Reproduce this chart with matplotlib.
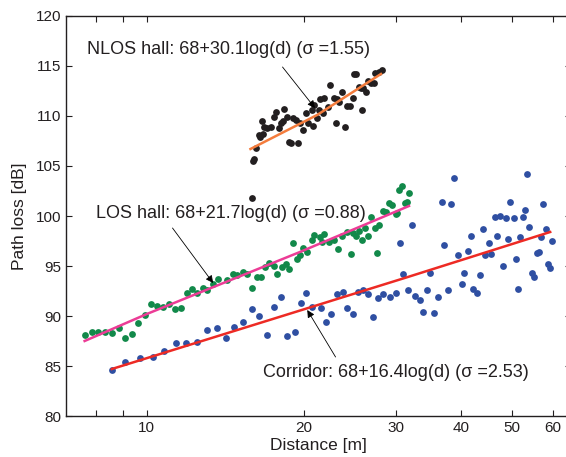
import numpy as np
import matplotlib
matplotlib.use('Agg')
import matplotlib.pyplot as plt
from matplotlib.ticker import FixedLocator, FixedFormatter, NullFormatter

plt.rcParams['font.family'] = ['Liberation Sans', 'DejaVu Sans']

# NLOS hall measurements
nlos_d = [15.9, 16.0, 16.04, 16.2, 16.4, 16.5, 16.7, 16.6, 16.8, 17.0, 17.3, 17.5, 17.7, 17.9,
          18.1, 18.2, 18.3, 18.6, 18.7, 18.9, 19.1, 19.3, 19.5, 19.7, 19.9, 20.2, 20.4, 20.8,
          20.7, 20.9, 21.2, 21.4, 21.5, 21.9, 21.8, 22.2, 22.4, 22.8, 23.1, 23.0, 23.4, 23.7,
          24.0, 24.2, 24.5, 24.8, 25.0, 25.2, 25.5, 25.7, 25.8, 26.0, 26.3, 26.5, 26.9, 27.2,
          27.4, 27.8, 28.2]
nlos_pl = [101.8, 105.5, 105.7, 106.8, 108.1, 107.9, 108.2, 109.5, 108.9, 108.8, 108.9, 109.9,
           110.4, 108.8, 109.3, 109.5, 110.7, 109.9, 107.4, 107.3, 109.8, 109.6, 107.3, 109.3,
           108.6, 110.3, 109.3, 109.0, 110.6, 111.1, 109.8, 110.6, 111.7, 111.8, 110.3, 110.9,
           113.1, 111.8, 111.7, 109.3, 111.4, 112.4, 108.9, 111.0, 111.0, 111.8, 114.2, 114.2,
           112.9, 112.8, 110.6, 112.8, 112.4, 113.5, 113.3, 113.3, 114.3, 114.4, 114.6]

# LOS hall measurements
los_d = [7.61, 7.86, 8.07, 8.30, 8.57, 8.84, 9.07, 9.35, 9.60, 9.90, 10.17, 10.44, 10.75, 11.02,
         11.32, 11.62, 11.92, 12.18, 12.49, 12.80, 13.07, 13.41, 13.71, 14.26, 14.65, 14.91,
         15.26, 15.57, 15.88, 16.28, 16.52, 16.83, 17.16, 17.51, 17.77, 18.13, 18.48, 18.74,
         19.1, 19.44, 19.65, 19.95, 20.3, 20.7, 20.93, 21.46, 21.62, 21.85, 22.36, 22.86, 23.28,
         23.63, 24.17, 24.61, 24.86, 25.13, 25.52, 25.87, 26.17, 26.56, 26.88, 27.36, 27.57,
         27.85, 28.31, 28.73, 29.14, 29.45, 30.0, 30.1, 30.45, 30.86, 31.23, 31.46, 31.83]
los_pl = [88.1, 88.4, 88.4, 88.4, 88.3, 88.8, 87.8, 88.2, 89.3, 90.1, 91.2, 91.0, 90.9, 91.2,
          90.7, 90.8, 92.3, 92.7, 92.3, 92.8, 92.6, 93.2, 93.7, 93.6, 94.2, 94.1, 94.4, 94.2,
          92.8, 93.9, 93.9, 94.9, 95.3, 95.0, 94.2, 94.9, 95.2, 94.7, 97.3, 95.7, 96.1, 96.8,
          96.4, 97.6, 98.1, 97.9, 97.4, 98.2, 97.4, 97.6, 96.7, 98.0, 98.4, 96.2, 98.3, 98.0,
          98.5, 97.6, 98.8, 98.0, 99.9, 98.8, 96.3, 99.1, 100.5, 100.4, 101.3, 101.1, 100.2,
          100.3, 102.6, 103.0, 101.3, 101.4, 102.3]

# Corridor measurements
cor_d = [8.57, 9.10, 9.70, 10.29, 10.81, 11.38, 11.91, 12.46, 13.07, 13.62, 14.19, 14.71, 15.29,
         15.88, 16.40, 16.98, 17.51, 18.05, 18.60, 19.22, 19.75, 20.2, 20.73, 21.53, 22.07,
         22.51, 23.16, 23.72, 24.22, 24.87, 25.43, 26.0, 26.57, 27.17, 27.77, 28.31, 29.23,
         30.0, 30.55, 31.0, 31.7, 32.2, 32.65, 33.37, 33.87, 34.38, 34.92, 35.45, 36.2, 36.77,
         37.1, 37.77, 38.35, 38.86, 39.56, 40.13, 40.58, 41.22, 41.84, 42.27, 42.94, 43.42,
         44.08, 44.57, 45.29, 45.74, 46.4, 47.45, 46.92, 48.2, 48.7, 49.24, 49.68, 50.5, 51.03,
         51.53, 51.9, 52.52, 53.0, 53.53, 54.08, 54.66, 55.22, 55.89, 56.4, 57.0, 57.56, 58.2,
         58.68, 59.38, 59.74]
cor_pl = [84.6, 85.4, 85.8, 85.9, 86.5, 87.3, 87.3, 87.4, 88.6, 88.8, 87.8, 88.9, 89.4, 90.7,
          90.0, 88.1, 90.9, 91.9, 88.0, 88.4, 91.3, 92.3, 90.9, 90.8, 89.4, 90.2, 92.2, 92.4,
          90.8, 90.2, 92.4, 92.6, 92.2, 89.9, 91.8, 92.2, 91.9, 92.3, 97.3, 94.2, 92.6, 99.1,
          92.0, 91.6, 90.4, 92.6, 94.3, 90.3, 91.9, 101.4, 97.1, 92.6, 101.2, 103.8, 96.1, 93.2,
          94.3, 96.5, 98.0, 92.7, 92.3, 94.1, 98.7, 96.1, 97.3, 96.2, 99.9, 100.0, 98.0, 95.0,
          99.8, 97.7, 101.4, 99.8, 95.7, 92.7, 97.9, 99.9, 100.6, 104.2, 98.9, 94.3, 93.9, 96.3,
          96.4, 97.9, 101.2, 98.7, 95.2, 94.8, 97.5]

# fitted lines
nlos_fit_d = [15.8, 21.2, 28.1]
nlos_fit_pl = [106.7, 110.1, 114.2]
los_fit_d = [7.6, 10.0, 19.65, 31.8]
los_fit_pl = [87.5, 90.2, 96.4, 101.0]
cor_fit_d = [8.57, 31.2, 59.3]
cor_fit_pl = [84.7, 93.8, 98.4]

fig = plt.figure(figsize=(5.66, 4.57), dpi=100)
ax = fig.add_axes([0.1166, 0.0897, 0.8922, 0.8753])

ms = 24
ax.scatter(nlos_d, nlos_pl, s=ms, color='#231f20', lw=0, zorder=3)
ax.scatter(los_d, los_pl, s=ms, color='#12894a', lw=0, zorder=3)
ax.scatter(cor_d, cor_pl, s=ms, color='#2f4fa2', lw=0, zorder=3)

ax.plot(nlos_fit_d, nlos_fit_pl, color='#f47c3c', lw=1.8, zorder=4)
ax.plot(los_fit_d, los_fit_pl, color='#ec3c96', lw=1.8, zorder=4)
ax.plot(cor_fit_d, cor_fit_pl, color='#ed2a24', lw=1.8, zorder=4)

ax.set_xscale('log')
ax.set_xlim(7, 65)
ax.set_ylim(80, 120)
ax.xaxis.set_major_locator(FixedLocator([10, 20, 30, 40, 50, 60]))
ax.xaxis.set_major_formatter(FixedFormatter(['10', '20', '30', '40', '50', '60']))
ax.xaxis.set_minor_locator(FixedLocator([8, 9]))
ax.xaxis.set_minor_formatter(NullFormatter())
ax.set_yticks(np.arange(80, 121, 5))

ax.tick_params(which='both', direction='in', top=True, right=True, labelsize=11,
               colors='#231f20', width=0.8, length=4)
for s in ax.spines.values():
    s.set_linewidth(1.0)
    s.set_color('#231f20')

ax.set_xlabel('Distance [m]', fontsize=12.5, labelpad=2, color='#231f20')
ax.set_ylabel('Path loss [dB]', fontsize=12.5, labelpad=6, color='#231f20')

arrow = dict(arrowstyle='-|>', color='k', lw=0.6, mutation_scale=11, shrinkA=0, shrinkB=0)
ax.text(7.67, 116.6, 'NLOS hall: 68+30.1log(d) (σ =1.55)', fontsize=13,
        va='center', ha='left', color='#231f20')
ax.annotate('', xy=(21.0, 110.8), xytext=(18.2, 114.9), arrowprops=arrow)
ax.text(7.98, 100.3, 'LOS hall: 68+21.7log(d) (σ =0.88)', fontsize=13,
        va='center', ha='left', color='#231f20')
ax.annotate('', xy=(13.4, 93.3), xytext=(11.2, 98.8), arrowprops=arrow)
ax.text(16.7, 84.4, 'Corridor: 68+16.4log(d) (σ =2.53)', fontsize=13,
        va='center', ha='left', color='#231f20')
ax.annotate('', xy=(20.3, 90.6), xytext=(23.0, 85.9), arrowprops=arrow)

fig.savefig('out.png', dpi=100)
